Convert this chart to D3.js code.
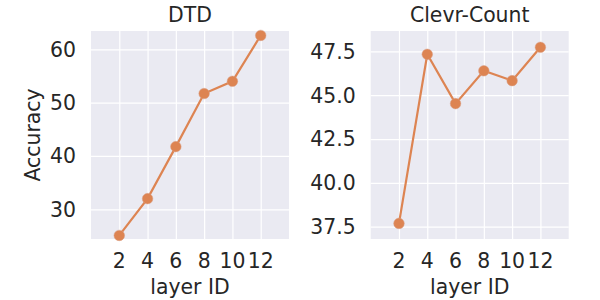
<!DOCTYPE html>
<html>
<head>
<meta charset="utf-8">
<script src="https://cdn.jsdelivr.net/npm/d3@7"></script>
<style>
  body { margin: 0; background: #fff; }
  text { font-family: "DejaVu Sans", sans-serif; fill: #262626; font-size: 20.4px; }
</style>
</head>
<body>
<div id="chart"></div>
<script>
// data
const layers = [2, 4, 6, 8, 10, 12];
const dtdAcc = [25.1, 32.0, 41.75, 51.7, 54.0, 62.6];
const clevrAcc = [37.69, 47.33, 44.52, 46.39, 45.83, 47.73];
const dtdTicks = [30, 40, 50, 60];
const clevrTicks = [37.5, 40.0, 42.5, 45.0, 47.5];

const panels = [
  { title: "DTD", values: dtdAcc, ticks: dtdTicks, yDomain: [24.43, 63.43], fmt: d3.format("d"), left: 91, ylabel: "Accuracy" },
  { title: "Clevr-Count", values: clevrAcc, ticks: clevrTicks, yDomain: [36.8, 48.66], fmt: d3.format(".1f"), left: 370.7, ylabel: null }
];

const width = 600, height = 300;
const plotW = 198, plotTop = 31, plotBottom = 239;
const orange = "#DD8452";

const svg = d3.select("#chart").append("svg")
  .attr("width", width)
  .attr("height", height);

panels.forEach(function(p) {
  let x = d3.scaleLinear().domain([0, 14]).range([p.left, p.left + plotW]);
  let y = d3.scaleLinear().domain(p.yDomain).range([plotBottom, plotTop]);
  let g = svg.append("g");

  g.append("rect")
    .attr("x", p.left).attr("y", plotTop)
    .attr("width", plotW).attr("height", plotBottom - plotTop)
    .attr("fill", "#EAEAF2");

  // gridlines through axes with no labels
  g.append("g")
    .attr("transform", "translate(0," + plotBottom + ")")
    .call(d3.axisBottom(x).tickValues(layers).tickSize(-(plotBottom - plotTop)).tickFormat(""))
    .call(s => s.select(".domain").remove())
    .selectAll("line").attr("stroke", "#fff").attr("stroke-width", 1.2);

  g.append("g")
    .attr("transform", "translate(" + p.left + ",0)")
    .call(d3.axisLeft(y).tickValues(p.ticks).tickSize(-plotW).tickFormat(""))
    .call(s => s.select(".domain").remove())
    .selectAll("line").attr("stroke", "#fff").attr("stroke-width", 1.2);

  // tick labels
  g.selectAll(".xl").data(layers).enter().append("text")
    .attr("x", d => x(d)).attr("y", 268)
    .attr("text-anchor", "middle")
    .text(d => d);

  g.selectAll(".yl").data(p.ticks).enter().append("text")
    .attr("x", p.left - 15).attr("y", d => y(d) + 7.4)
    .attr("text-anchor", "end")
    .text(d => p.fmt(d));

  // titles
  g.append("text")
    .attr("x", p.left + plotW / 2).attr("y", 21.5)
    .attr("text-anchor", "middle")
    .text(p.title);

  g.append("text")
    .attr("x", p.left + plotW / 2).attr("y", 294)
    .attr("text-anchor", "middle")
    .text("layer ID");

  if (p.ylabel) {
    g.append("text")
      .attr("transform", "translate(40," + ((plotTop + plotBottom) / 2) + ") rotate(-90)")
      .attr("text-anchor", "middle")
      .text(p.ylabel);
  }

  let pts = layers.map((l, i) => [l, p.values[i]]);
  let line = d3.line().x(d => x(d[0])).y(d => y(d[1]));

  g.append("path")
    .datum(pts)
    .attr("d", line)
    .attr("fill", "none")
    .attr("stroke", orange)
    .attr("stroke-width", 2.2);

  g.selectAll(".pt").data(pts).enter().append("circle")
    .attr("cx", d => x(d[0])).attr("cy", d => y(d[1]))
    .attr("r", 5.3)
    .attr("fill", orange)
    .attr("stroke", "#d9a088")
    .attr("stroke-width", 0.5);
});
</script>
</body>
</html>
